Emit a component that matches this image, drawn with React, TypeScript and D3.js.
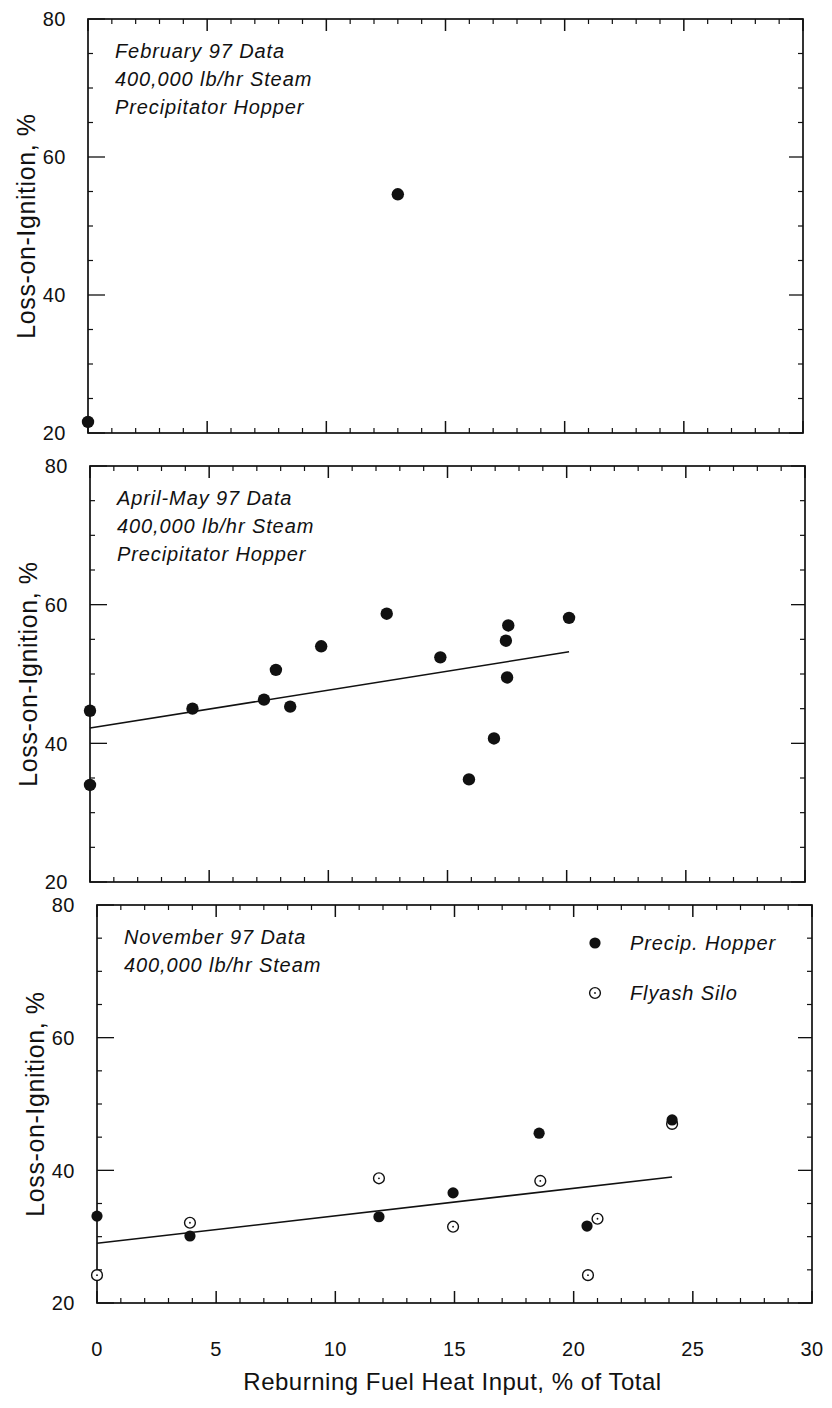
import React from "react";
import * as d3 from "d3";

// ---------- data ----------
const xMajorTicks = [0, 5, 10, 15, 20, 25, 30];
const yMajorTicks = [20, 40, 60, 80];
const xDomain = [0, 30];
const yDomain = [20, 80];

const febLabels = ["February 97 Data", "400,000 lb/hr Steam", "Precipitator Hopper"];
const febHopperX = [0, 13.0];
const febHopperY = [21.6, 54.6];

const aprLabels = ["April-May 97 Data", "400,000 lb/hr Steam", "Precipitator Hopper"];
const aprHopperX = [0, 0, 4.3, 7.3, 7.8, 8.4, 9.7, 12.45, 14.7, 15.9, 16.95, 17.45, 17.55, 17.5, 20.1];
const aprHopperY = [44.7, 34.0, 45.0, 46.3, 50.6, 45.3, 54.0, 58.7, 52.4, 34.8, 40.7, 54.8, 57.0, 49.5, 58.1];
const aprFitX = [0, 20.1];
const aprFitY = [42.2, 53.2];

const novLabels = ["November 97 Data", "400,000 lb/hr Steam"];
const novHopperX = [0, 3.9, 11.83, 14.94, 18.55, 20.56, 24.13];
const novHopperY = [33.1, 30.1, 33.0, 36.6, 45.6, 31.6, 47.6];
const novSiloX = [0, 3.9, 11.83, 14.94, 18.6, 21.0, 20.6, 24.13];
const novSiloY = [24.2, 32.1, 38.8, 31.5, 38.4, 32.7, 24.2, 47.0];
const novFitX = [0, 24.13];
const novFitY = [29.0, 39.0];

const legendLabels = ["Precip. Hopper", "Flyash Silo"];

const yTitle = "Loss-on-Ignition, %";
const xTitle = "Reburning Fuel Heat Input, % of Total";

// ---------- drawing ----------
const FONT = "'Liberation Sans', Arial, Helvetica, sans-serif";

type PanelProps = {
  left: number;
  right: number;
  top: number;
  bottom: number;
  labels: string[];
  hopperX: number[];
  hopperY: number[];
  siloX?: number[];
  siloY?: number[];
  fitX?: number[];
  fitY?: number[];
  legend?: boolean;
  xLabels?: boolean;
};

function Panel(p: PanelProps) {
  const x = d3.scaleLinear().domain(xDomain).range([p.left, p.right]);
  const y = d3.scaleLinear().domain(yDomain).range([p.bottom, p.top]);
  const xMinor = d3.range(0, 31, 1).filter((v) => v % 5 !== 0);
  const yMinor = d3.range(20, 81, 5).filter((v) => v % 20 !== 0);
  const line = d3
    .line<number>()
    .x((d, i) => x(p.fitX![i]))
    .y((d, i) => y(p.fitY![i]));
  const ink = "#111";
  const midY = (p.top + p.bottom) / 2;
  return (
    <g>
      <rect
        x={p.left}
        y={p.top}
        width={p.right - p.left}
        height={p.bottom - p.top}
        fill="none"
        stroke={ink}
        strokeWidth={1.7}
      />
      {xMajorTicks.map((v) => (
        <g key={"xm" + v}>
          <line x1={x(v)} x2={x(v)} y1={p.top} y2={p.top + 12} stroke={ink} strokeWidth={1.5} />
          <line x1={x(v)} x2={x(v)} y1={p.bottom} y2={p.bottom - 12} stroke={ink} strokeWidth={1.5} />
        </g>
      ))}
      {xMinor.map((v) => (
        <g key={"xn" + v}>
          <line x1={x(v)} x2={x(v)} y1={p.top} y2={p.top + 5} stroke={ink} strokeWidth={1.2} />
          <line x1={x(v)} x2={x(v)} y1={p.bottom} y2={p.bottom - 5} stroke={ink} strokeWidth={1.2} />
        </g>
      ))}
      {yMajorTicks.map((v) => (
        <g key={"ym" + v}>
          <line x1={p.left} x2={p.left + 17} y1={y(v)} y2={y(v)} stroke={ink} strokeWidth={1.3} />
          <line x1={p.right} x2={p.right - 14} y1={y(v)} y2={y(v)} stroke={ink} strokeWidth={1.3} />
          <text
            x={p.left - 22}
            y={y(v)}
            dy="0.36em"
            textAnchor="end"
            fontSize={20}
            fontFamily={FONT}
            fill={ink}
            letterSpacing={0.5}
          >
            {v}
          </text>
        </g>
      ))}
      {yMinor.map((v) => (
        <g key={"yn" + v}>
          <line x1={p.left} x2={p.left + 5} y1={y(v)} y2={y(v)} stroke={ink} strokeWidth={1.2} />
          <line x1={p.right} x2={p.right - 5} y1={y(v)} y2={y(v)} stroke={ink} strokeWidth={1.2} />
        </g>
      ))}
      <text
        transform={`translate(${p.left - 62},${midY}) rotate(-90)`}
        textAnchor="middle"
        dy="0.36em"
        fontSize={25}
        fontFamily={FONT}
        fill={ink}
        letterSpacing={0.6}
      >
        {yTitle}
      </text>
      {p.labels.map((t, i) => (
        <text
          key={t}
          x={p.left + 27}
          y={p.top + 39 + i * 28}
          fontSize={20}
          fontStyle="italic"
          fontFamily={FONT}
          fill={ink}
          letterSpacing={0.9}
        >
          {t}
        </text>
      ))}
      {p.fitX && p.fitY && (
        <path d={line(p.fitX) || ""} fill="none" stroke={ink} strokeWidth={1.6} />
      )}
      {p.siloX &&
        p.siloX.map((v, i) => (
          <g key={"s" + i}>
            <circle cx={x(v)} cy={y(p.siloY![i])} r={5.4} fill="#fff" stroke={ink} strokeWidth={1.4} />
            <circle cx={x(v)} cy={y(p.siloY![i])} r={0.9} fill={ink} />
          </g>
        ))}
      {p.hopperX.map((v, i) => (
        <circle key={"h" + i} cx={x(v)} cy={y(p.hopperY[i])} r={p.siloX ? 5.6 : 6.2} fill={ink} />
      ))}
      {p.legend && (
        <g>
          <circle cx={p.right - 217} cy={p.top + 38} r={5.6} fill={ink} />
          <text
            x={p.right - 182}
            y={p.top + 45}
            fontSize={20}
            fontStyle="italic"
            fontFamily={FONT}
            fill={ink}
            letterSpacing={0.9}
          >
            {legendLabels[0]}
          </text>
          <circle cx={p.right - 217} cy={p.top + 88} r={5.4} fill="#fff" stroke={ink} strokeWidth={1.4} />
          <circle cx={p.right - 217} cy={p.top + 88} r={0.9} fill={ink} />
          <text
            x={p.right - 182}
            y={p.top + 95}
            fontSize={20}
            fontStyle="italic"
            fontFamily={FONT}
            fill={ink}
            letterSpacing={0.9}
          >
            {legendLabels[1]}
          </text>
        </g>
      )}
      {p.xLabels &&
        xMajorTicks.map((v) => (
          <text
            key={"xl" + v}
            x={x(v)}
            y={p.bottom + 53}
            textAnchor="middle"
            fontSize={20}
            fontFamily={FONT}
            fill={ink}
            letterSpacing={0.5}
          >
            {v}
          </text>
        ))}
      {p.xLabels && (
        <text
          x={(p.left + p.right) / 2 - 2}
          y={p.bottom + 87}
          textAnchor="middle"
          fontSize={24}
          fontFamily={FONT}
          fill={ink}
          letterSpacing={0.5}
        >
          {xTitle}
        </text>
      )}
    </g>
  );
}

export default function App() {
  return (
    <svg
      width={832}
      height={1408}
      viewBox="0 0 832 1408"
      style={{ position: "absolute", left: 0, top: 0, background: "#fff" }}
    >
      <rect x={0} y={0} width={832} height={1408} fill="#fff" />
      <Panel
        left={88}
        right={803}
        top={19}
        bottom={433}
        labels={febLabels}
        hopperX={febHopperX}
        hopperY={febHopperY}
      />
      <Panel
        left={90}
        right={805}
        top={466}
        bottom={882}
        labels={aprLabels}
        hopperX={aprHopperX}
        hopperY={aprHopperY}
        fitX={aprFitX}
        fitY={aprFitY}
      />
      <Panel
        left={97}
        right={812}
        top={905}
        bottom={1303}
        labels={novLabels}
        hopperX={novHopperX}
        hopperY={novHopperY}
        siloX={novSiloX}
        siloY={novSiloY}
        fitX={novFitX}
        fitY={novFitY}
        legend
        xLabels
      />
    </svg>
  );
}
